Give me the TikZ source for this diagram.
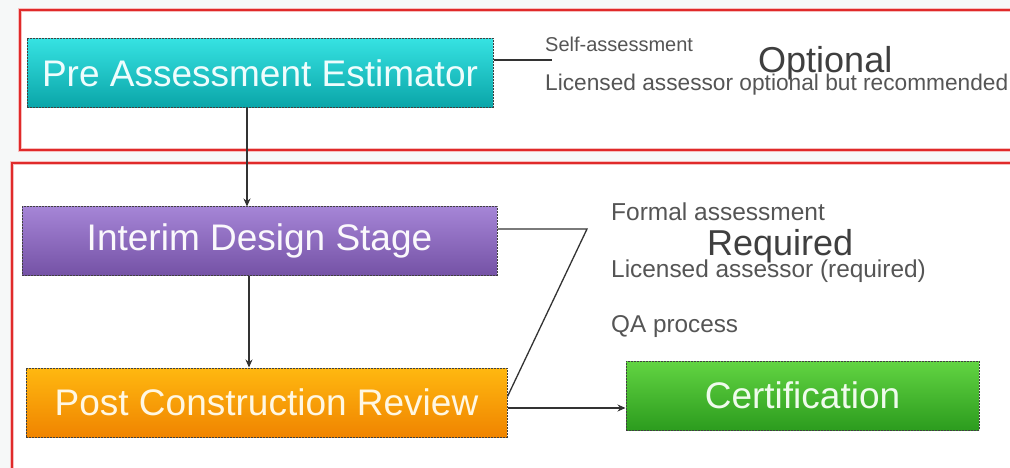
\documentclass[tikz,border=0pt]{standalone}
\usepackage{fontspec}
\setmainfont{Liberation Sans}
\usetikzlibrary{arrows.meta}
\definecolor{redline}{HTML}{E02A2A}
\definecolor{txtgrey}{HTML}{555555}
\definecolor{bigtxt}{HTML}{3F3F3F}
\definecolor{tealtop}{HTML}{36E2E2}
\definecolor{tealbot}{HTML}{0AA5A8}
\definecolor{purptop}{HTML}{A585D6}
\definecolor{purpbot}{HTML}{7552A6}
\definecolor{orgtop}{HTML}{FFB810}
\definecolor{orgbot}{HTML}{F08400}
\definecolor{grntop}{HTML}{62D442}
\definecolor{grnbot}{HTML}{2C9C1E}
\definecolor{bg}{HTML}{F6F8F8}
\tikzset{
  stage/.style={rectangle, inner sep=0pt, minimum height=69pt,
    draw=black!75, dash pattern=on 2pt off 1pt, line width=1pt,
    font=\fontsize{37}{40}\selectfont},
  frame/.style={draw=redline, line width=1.8pt},
  conn/.style={draw=black!80, line width=1.3pt},
  arr/.style={conn, -{Stealth[length=8pt,width=7pt]}},
  note/.style={anchor=base west, text=txtgrey, inner sep=0pt},
  bignote/.style={anchor=base west, text=bigtxt, inner sep=0pt, font=\fontsize{36}{40}\selectfont},
}
\begin{document}
\begin{tikzpicture}[x=1pt,y=-1pt]
\useasboundingbox (0,0) rectangle (1010,468);
\clip (0,0) rectangle (1010,468);
\fill[bg] (0,0) rectangle (1010,468);
% frames
\filldraw[fill=white, draw=redline!30, line width=4pt] (20,10) rectangle (1020,150);
\draw[frame] (20,10) rectangle (1020,150);
\filldraw[fill=white, draw=redline!30, line width=4pt] (12,163) rectangle (1020,480);
\draw[frame] (12,163) rectangle (1020,480);
% stages
\node[stage, minimum width=466pt, top color=tealtop, bottom color=tealbot, text=white!92!tealtop] (pae) at (260,73) {Pre Assessment Estimator};
\node[stage, minimum width=475pt, minimum height=68pt, top color=purptop, bottom color=purpbot, text=white!94!purptop] (ids) at (259.5,241) {Interim Design Stage};
\node[stage, minimum width=481pt, top color=orgtop, bottom color=orgbot, text=white!88!orgtop] (pcr) at (266.5,402.5) {Post Construction Review};
\node[stage, minimum width=353pt, top color=grntop, bottom color=grnbot, text=white!90!grntop] (cert) at (802.5,395.5) {Certification};
% notes
\node[note, font=\fontsize{20}{24}\selectfont] (self) at (545,52) {Self-assessment};
\node[bignote] (opt) at (758,73) {Optional};
\node[note, font=\fontsize{22.7}{26}\selectfont] (lic1) at (545,91) {Licensed assessor optional but recommended};
\node[note, font=\fontsize{24.5}{28}\selectfont] (formal) at (611,220) {Formal assessment};
\node[bignote] (req) at (707,255) {Required};
\node[note, font=\fontsize{24.4}{28}\selectfont] (lic2) at (611,277) {Licensed assessor (required)};
\node[note, font=\fontsize{24.3}{28}\selectfont] (qa) at (611,332) {QA process};
% connectors
\coordinate (selfend) at (552,60);
\draw[conn] ([yshift=13pt]pae.east) -- (selfend);
\draw[arr] ([xshift=-13pt]pae.south) -- ([xshift=-13pt]pae.south |- ids.north);
\draw[arr] ([xshift=-10.5pt]ids.south) -- ([xshift=-10.5pt]ids.south |- pcr.north);
\coordinate (zig) at (587,229);
\draw[conn] ([yshift=12pt]ids.east) -- (zig) -- ([yshift=6pt]pcr.east);
\coordinate (p1) at ([yshift=-5.5pt]pcr.east);
\draw[arr] (p1) -- (p1 -| cert.west);
\end{tikzpicture}
\end{document}
